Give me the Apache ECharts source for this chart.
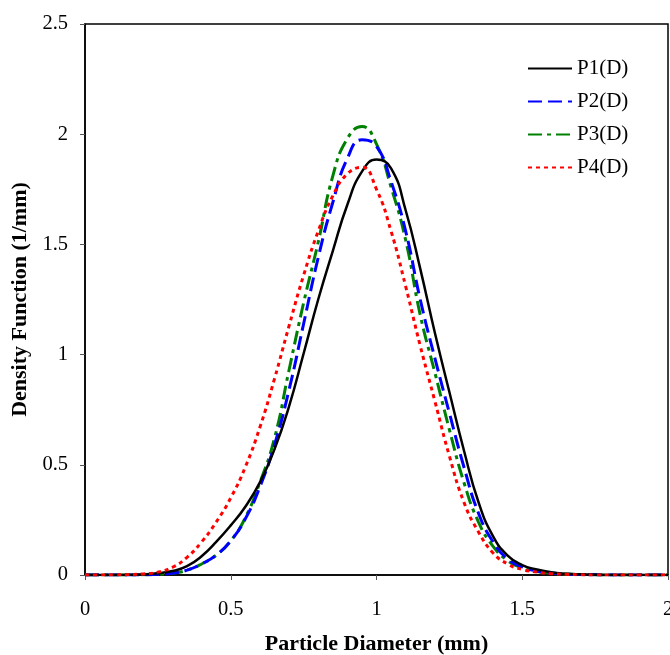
<!DOCTYPE html>
<html>
<head>
<meta charset="utf-8">
<script src="https://cdn.jsdelivr.net/npm/echarts@6/dist/echarts.min.js"></script>
<style>html,body{margin:0;padding:0;background:#fff;overflow:hidden}#c{width:670px;height:655px}</style>
</head>
<body>
<div id="c"></div>
<script>
var diameters = [0,0.05,0.1,0.15,0.2,0.25,0.3,0.35,0.4,0.45,0.5,0.55,0.6,0.65,0.7,0.75,0.8,0.85,0.9,0.95,1.0,1.05,1.1,1.15,1.2,1.25,1.3,1.35,1.4,1.45,1.5,1.55,1.6,1.65,1.7,1.75,1.8,1.85,1.9,1.95,2.0];
var p1 = [0,0,0,0.001,0.003,0.008,0.018,0.04,0.085,0.15,0.225,0.31,0.42,0.57,0.765,1.005,1.25,1.47,1.68,1.83,1.885,1.845,1.655,1.39,1.10,0.83,0.565,0.33,0.175,0.088,0.045,0.025,0.012,0.006,0.003,0.001,0,0,0,0,0];
var p2 = [0,0,0,0,0.001,0.003,0.008,0.022,0.05,0.09,0.155,0.255,0.40,0.59,0.84,1.14,1.44,1.69,1.89,1.975,1.945,1.785,1.56,1.25,0.985,0.735,0.49,0.28,0.15,0.072,0.037,0.018,0.009,0.004,0.002,0.001,0,0,0,0,0];
var p3 = [0,0,0,0,0.001,0.003,0.008,0.022,0.05,0.09,0.155,0.26,0.42,0.62,0.93,1.235,1.51,1.81,1.98,2.035,1.955,1.76,1.52,1.18,0.92,0.66,0.42,0.24,0.13,0.065,0.033,0.016,0.008,0.004,0.002,0.001,0,0,0,0,0];
var p4 = [0,0,0.001,0.002,0.005,0.013,0.035,0.08,0.15,0.24,0.35,0.49,0.67,0.89,1.13,1.36,1.56,1.72,1.82,1.85,1.75,1.56,1.31,1.04,0.79,0.54,0.33,0.195,0.10,0.05,0.025,0.013,0.006,0.003,0.001,0,0,0,0,0,0];
var seriesNames = ['P1(D)','P2(D)','P3(D)','P4(D)'];
var xTicks = [0,0.5,1,1.5,2];
var yTicks = [0,0.5,1,1.5,2,2.5];

function pairs(ys){ return diameters.map(function(x,i){ return [x, ys[i]]; }); }
var FONT = '"Liberation Serif","Times New Roman",serif';

var chart = echarts.init(document.getElementById('c'), null, {renderer:'canvas'});
chart.setOption({
  animation:false,
  backgroundColor:'#fff',
  grid:{left:85,right:2,top:24,bottom:80,outerBoundsMode:'none',containLabel:false,show:true,borderColor:'#000',borderWidth:1.5,backgroundColor:'transparent'},
  legend:{
    orient:'vertical', left:522, top:53, itemWidth:44, itemHeight:14, itemGap:12,
    data:seriesNames,
    itemStyle:{opacity:0},
    textStyle:{fontFamily:FONT,fontSize:21,color:'#000'}
  },
  xAxis:{
    type:'value', min:xTicks[0], max:xTicks[xTicks.length-1], interval:0.5,
    name:'Particle Diameter (mm)', nameLocation:'middle', nameGap:58,
    nameTextStyle:{fontFamily:FONT,fontSize:22,fontWeight:'bold',color:'#000'},
    axisLine:{lineStyle:{color:'#000',width:1.5}},
    axisTick:{length:5,lineStyle:{color:'#555'}},
    axisLabel:{margin:24,fontFamily:FONT,fontSize:20.5,color:'#000'},
    splitLine:{show:false}
  },
  yAxis:{
    type:'value', min:yTicks[0], max:yTicks[yTicks.length-1], interval:0.5,
    name:'Density Function (1/mm)', nameLocation:'middle', nameGap:51,
    nameTextStyle:{fontFamily:FONT,fontSize:22,fontWeight:'bold',color:'#000'},
    axisLine:{show:true,lineStyle:{color:'#000',width:1.5}},
    axisTick:{show:true,length:5,lineStyle:{color:'#555'}},
    axisLabel:{margin:17,fontFamily:FONT,fontSize:20.5,color:'#000'},
    splitLine:{show:false}
  },
  series:[
    {name:seriesNames[0],type:'line',smooth:true,symbol:'none',data:pairs(p1),z:4,
     lineStyle:{color:'#000',width:2.5,type:'solid'},itemStyle:{color:'#000'}},
    {name:seriesNames[1],type:'line',smooth:true,symbol:'none',data:pairs(p2),z:3,
     lineStyle:{color:'#0000ff',width:3,type:[14,6]},itemStyle:{color:'#0000ff'}},
    {name:seriesNames[2],type:'line',smooth:true,symbol:'none',data:pairs(p3),z:2,
     lineStyle:{color:'#008000',width:3,type:[14,5,4,5]},itemStyle:{color:'#008000'}},
    {name:seriesNames[3],type:'line',smooth:true,symbol:'none',data:pairs(p4),z:5,
     lineStyle:{color:'#ff0000',width:3,type:[4,4]},itemStyle:{color:'#ff0000'}}
  ]
});
</script>
</body>
</html>
